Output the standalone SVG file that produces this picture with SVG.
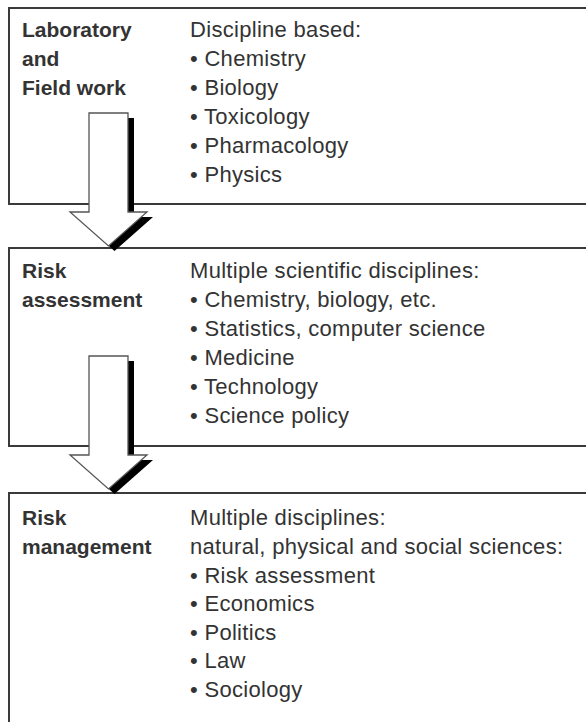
<svg xmlns="http://www.w3.org/2000/svg" width="586" height="722" viewBox="0 0 586 722">
<style>
.box{fill:#fff;stroke:#3a3a3a;stroke-width:2}
.lbl{font-family:"Liberation Sans",Arial,sans-serif;font-weight:bold;font-size:21px;fill:#333}
.txt{font-family:"Liberation Sans",Arial,sans-serif;font-size:22px;letter-spacing:0.3px;fill:#333}
.shadow{fill:#000}
.arrow{fill:#fff;stroke:#555;stroke-width:1.3}
</style>
<defs>
<path id="arr" d="M89,0 H128 V99 H147 L108.5,133 L70,99 H89 Z"/>
</defs>
<rect width="586" height="722" fill="#fff"/>
<g id="node-lab">
<rect class="box" x="9" y="8" width="600" height="196"/>
<text class="lbl" x="22" y="37">Laboratory</text>
<text class="lbl" x="22" y="66">and</text>
<text class="lbl" x="22" y="95">Field work</text>
<text class="txt" x="190" y="37">Discipline based:</text>
<text class="txt" x="190" y="66">• Chemistry</text>
<text class="txt" x="190" y="95">• Biology</text>
<text class="txt" x="190" y="124">• Toxicology</text>
<text class="txt" x="190" y="153">• Pharmacology</text>
<text class="txt" x="190" y="182">• Physics</text>
</g>
<g id="node-ra">
<rect class="box" x="9" y="248" width="600" height="198"/>
<text class="lbl" x="22" y="278">Risk</text>
<text class="lbl" x="22" y="307">assessment</text>
<text class="txt" x="190" y="278">Multiple scientific disciplines:</text>
<text class="txt" x="190" y="307">• Chemistry, biology, etc.</text>
<text class="txt" x="190" y="336">• Statistics, computer science</text>
<text class="txt" x="190" y="365">• Medicine</text>
<text class="txt" x="190" y="394">• Technology</text>
<text class="txt" x="190" y="423">• Science policy</text>
</g>
<g id="node-rm">
<rect class="box" x="9" y="493" width="600" height="260"/>
<text class="lbl" x="22" y="525">Risk</text>
<text class="lbl" x="22" y="554">management</text>
<text class="txt" x="190" y="525">Multiple disciplines:</text>
<text class="txt" x="190" y="554">natural, physical and social sciences:</text>
<text class="txt" x="190" y="583">• Risk assessment</text>
<text class="txt" x="190" y="611">• Economics</text>
<text class="txt" x="190" y="640">• Politics</text>
<text class="txt" x="190" y="668">• Law</text>
<text class="txt" x="190" y="697">• Sociology</text>
</g>
<g id="connectors">
<g transform="translate(0,113)">
<use href="#arr" class="shadow" transform="translate(6,5)"/>
<use href="#arr" class="arrow"/>
</g>
<g transform="translate(0,356)">
<use href="#arr" class="shadow" transform="translate(6,5)"/>
<use href="#arr" class="arrow"/>
</g>
</g>
</svg>
